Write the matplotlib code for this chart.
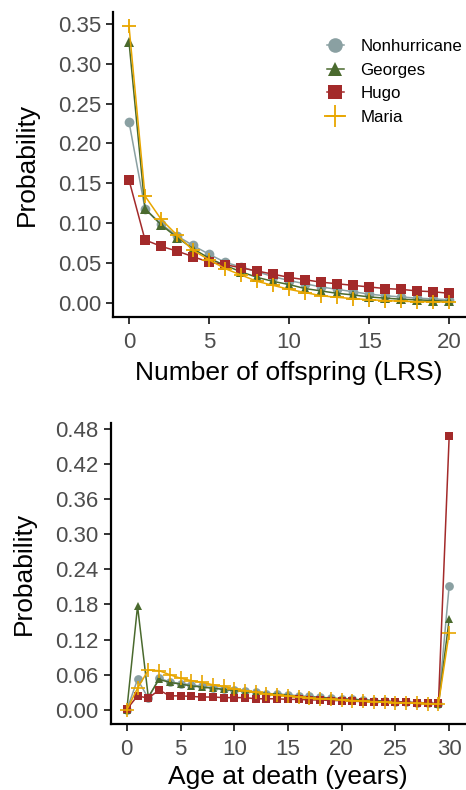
import numpy as np
import matplotlib
matplotlib.use("Agg")
import matplotlib.pyplot as plt

plt.rcParams['font.family'] = ['Liberation Sans', 'DejaVu Sans']

series = ['Nonhurricane', 'Georges', 'Hugo', 'Maria']
colors = ['#8AA0A2', '#4A6A2E', '#A32A2A', '#E8A600']
markers = ['o', '^', 's', '+']

# top panel: lifetime reproductive success
lrs_x = list(range(21))
lrs_non = [0.227, 0.118, 0.099, 0.084, 0.072, 0.061, 0.051, 0.045, 0.039, 0.033, 0.028,
           0.024, 0.020, 0.017, 0.014, 0.011, 0.009, 0.0075, 0.006, 0.005, 0.004]
lrs_geo = [0.327, 0.118, 0.098, 0.082, 0.068, 0.056, 0.047, 0.039, 0.032, 0.027, 0.023,
           0.018, 0.015, 0.012, 0.010, 0.0075, 0.006, 0.0046, 0.0038, 0.003, 0.002]
lrs_hugo = [0.154, 0.079, 0.071, 0.065, 0.058, 0.051, 0.048, 0.044, 0.040, 0.036, 0.032,
            0.029, 0.026, 0.024, 0.022, 0.020, 0.018, 0.017, 0.015, 0.014, 0.012]
lrs_maria = [0.347, 0.134, 0.105, 0.085, 0.066, 0.054, 0.043, 0.035, 0.027, 0.022, 0.017,
             0.013, 0.009, 0.007, 0.0054, 0.004, 0.003, 0.002, 0.0017, 0.0013, 0.001]

# bottom panel: age at death
age_x = list(range(31))
age_non = [0.0, 0.052, 0.020, 0.054, 0.048, 0.045, 0.043, 0.040, 0.038, 0.036, 0.034,
           0.032, 0.030, 0.028, 0.027, 0.026, 0.024, 0.023, 0.022, 0.020, 0.019,
           0.018, 0.017, 0.016, 0.015, 0.014, 0.013, 0.012, 0.011, 0.010, 0.212]
age_geo = [0.0, 0.177, 0.022, 0.052, 0.047, 0.044, 0.041, 0.039, 0.037, 0.035, 0.033,
           0.031, 0.030, 0.028, 0.027, 0.025, 0.023, 0.022, 0.021, 0.020, 0.019,
           0.018, 0.017, 0.016, 0.015, 0.014, 0.013, 0.012, 0.011, 0.0097, 0.155]
age_hugo = [0.001, 0.024, 0.020, 0.034, 0.024, 0.024, 0.023, 0.022, 0.022, 0.021, 0.021,
            0.021, 0.019, 0.019, 0.019, 0.018, 0.018, 0.017, 0.017, 0.016, 0.016,
            0.015, 0.014, 0.014, 0.014, 0.0136, 0.013, 0.0125, 0.012, 0.011, 0.467]
age_maria = [0.0, 0.037, 0.068, 0.067, 0.060, 0.054, 0.050, 0.047, 0.043, 0.040, 0.036,
             0.033, 0.030, 0.027, 0.025, 0.024, 0.022, 0.020, 0.019, 0.018, 0.017,
             0.016, 0.015, 0.014, 0.0136, 0.0125, 0.012, 0.011, 0.0108, 0.010, 0.132]

fig = plt.figure(figsize=(4.66, 7.9), dpi=100)
ax1 = fig.add_axes([0.2425, 0.599, 0.756, 0.386])
ax2 = fig.add_axes([0.2375, 0.084, 0.761, 0.381])

msz = {'o': 7, '^': 7, 's': 6.5, '+': 10.5}

for ys, c, m, name in zip([lrs_non, lrs_geo, lrs_hugo, lrs_maria], colors, markers, series):
    ax1.plot(lrs_x, ys, color=c, marker=m, ms=msz[m], lw=1.1, mew=1.3 if m == '+' else 0,
             label=name)
for ys, c, m in zip([age_non, age_geo, age_hugo, age_maria], colors, markers):
    ax2.plot(age_x, ys, color=c, marker=m, ms=msz[m] * 0.9, lw=1.1,
             mew=1.2 if m == '+' else 0)

ax1.set_xlim(-1, 21)
ax1.set_ylim(-0.0174, 0.365)
ax1.set_xticks([0, 5, 10, 15, 20])
ax1.set_yticks(np.arange(0, 0.351, 0.05))
ax1.yaxis.set_major_formatter(matplotlib.ticker.FormatStrFormatter('%.2f'))
ax1.set_xlabel('Number of offspring (LRS)', fontsize=19, labelpad=6)
ax1.set_ylabel('Probability', fontsize=19, labelpad=14)

ax2.set_xlim(-1.5, 31.5)
ax2.set_ylim(-0.0234, 0.49)
ax2.set_xticks([0, 5, 10, 15, 20, 25, 30])
ax2.set_yticks(np.arange(0, 0.481, 0.06))
ax2.yaxis.set_major_formatter(matplotlib.ticker.FormatStrFormatter('%.2f'))
ax2.set_xlabel('Age at death (years)', fontsize=19, labelpad=4)
ax2.set_ylabel('Probability', fontsize=19, labelpad=14)

for ax in (ax1, ax2):
    ax.spines['top'].set_visible(False)
    ax.spines['right'].set_visible(False)
    ax.spines['left'].set_linewidth(1.6)
    ax.spines['bottom'].set_linewidth(1.6)
    ax.tick_params(labelsize=16, labelcolor='#4D4D4D', width=1.4, length=5, color='#333333')
    ax.tick_params(axis='x', pad=6)

leg = ax1.legend(loc='upper right', bbox_to_anchor=(1.035, 0.96), frameon=False, fontsize=12.2,
                 handlelength=1.0, handletextpad=1.0, labelspacing=0.5, markerscale=1.5)

fig.savefig('out.png', dpi=100)
